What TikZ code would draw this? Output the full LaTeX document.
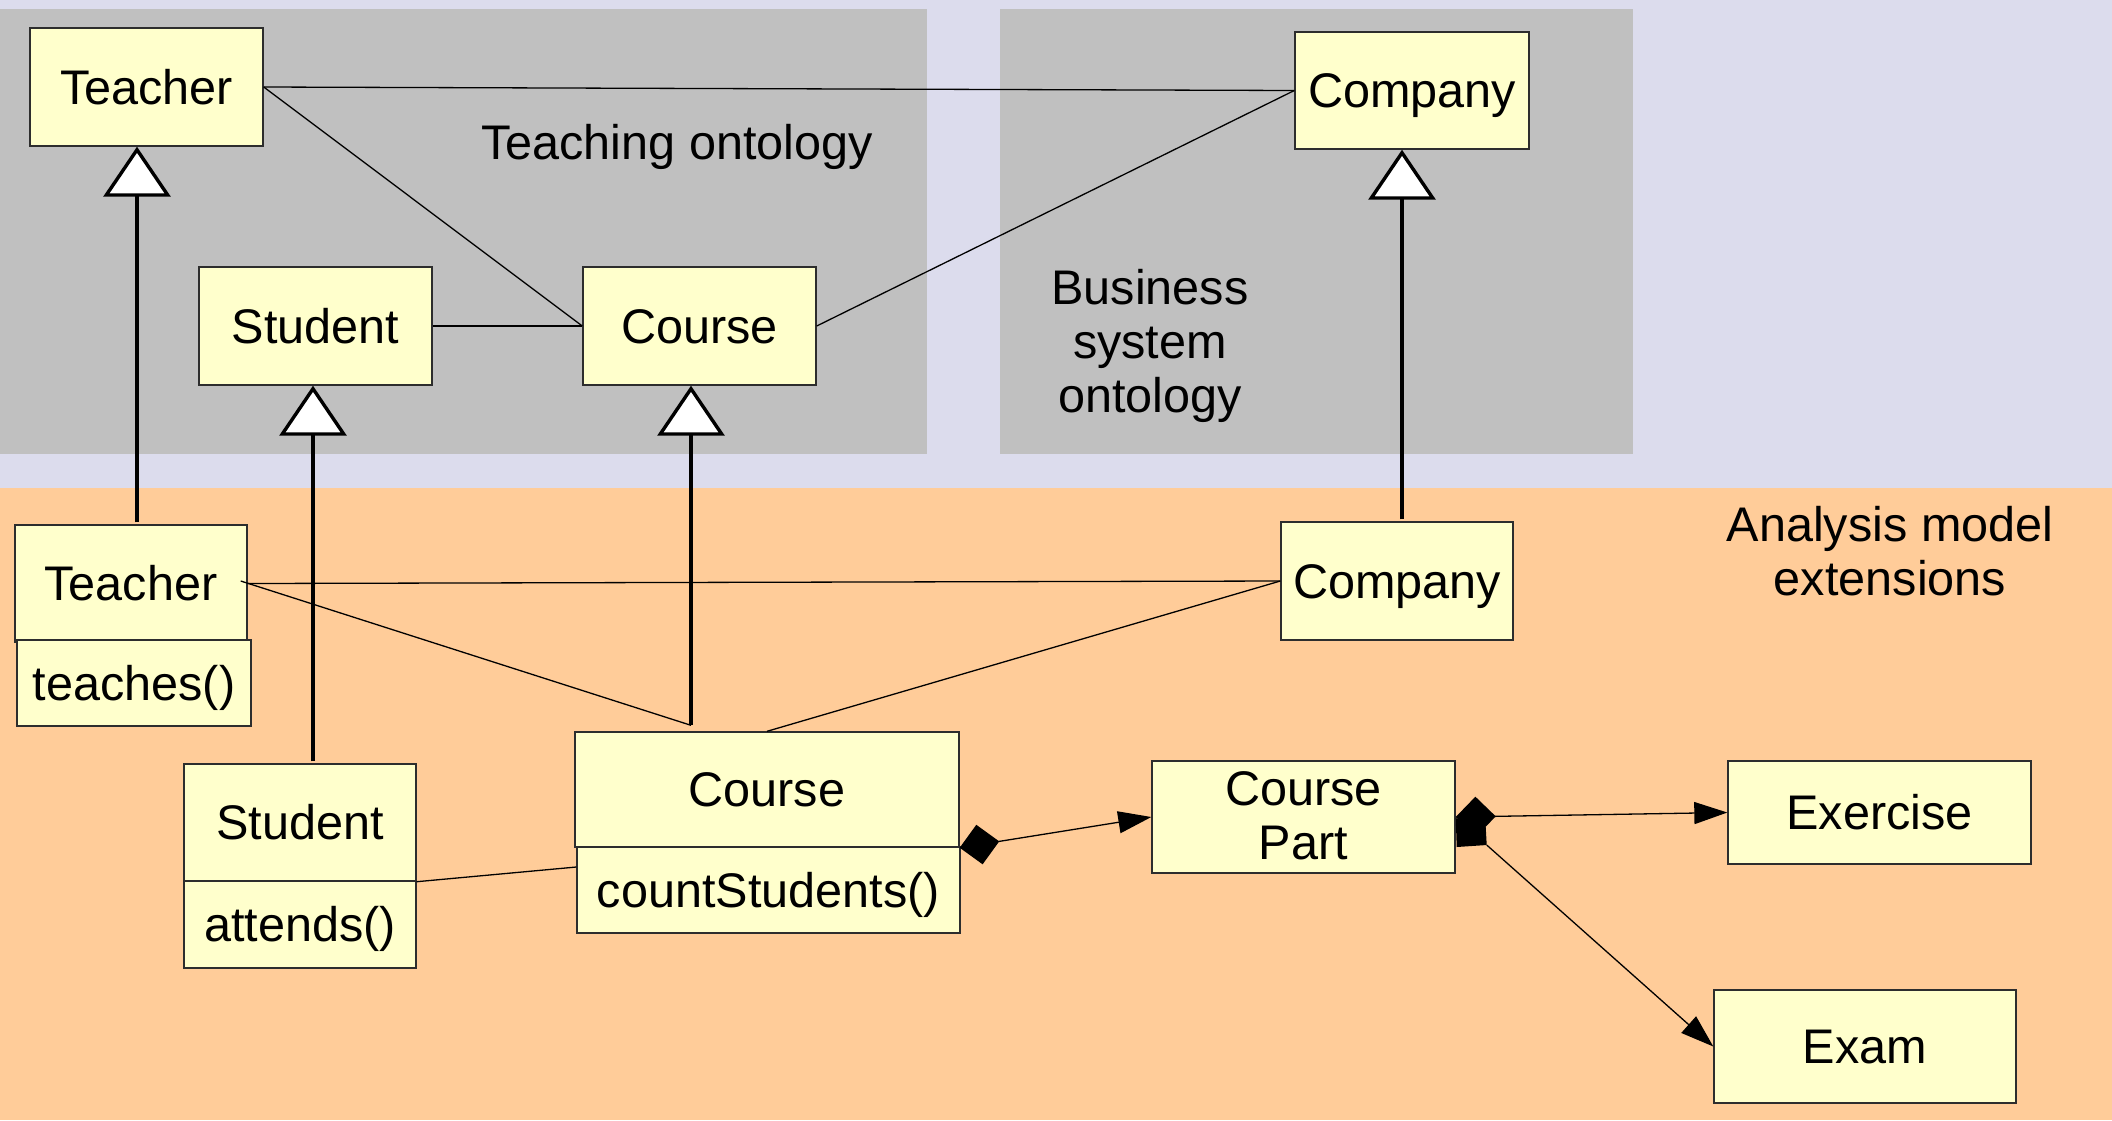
\documentclass[tikz,border=0pt]{standalone}
\usepackage{fontspec}
\setmainfont{Liberation Sans}
\usetikzlibrary{arrows.meta,calc}
\definecolor{bglav}{RGB}{220,220,237}
\definecolor{ontogray}{RGB}{192,192,192}
\definecolor{modelorange}{RGB}{255,204,153}
\definecolor{classyellow}{RGB}{255,255,204}
\definecolor{edgegray}{RGB}{45,45,45}
\begin{document}
\begin{tikzpicture}[x=0.5pt,y=-0.5pt,
  font=\fontsize{24.3pt}{27pt}\selectfont,
  cls/.style={draw=edgegray, line width=0.7pt, fill=classyellow, inner sep=0pt,
    text height=17.4pt, text depth=0pt},
  sz/.style 2 args={minimum width=#1*0.5pt, minimum height=#2*0.5pt},
  assoc/.style={line width=0.65pt, draw=black},
  gen/.style={line width=2pt, draw=black,
    -{Triangle[length=25pt, width=33.5pt, fill=white, line width=1.7pt]}},
  comp/.style={line width=0.65pt, draw=black,
    {Diamond[length=20pt, width=20pt]}-{Triangle[length=16.5pt, width=11pt]}},
  nav/.style={line width=0.65pt, draw=black, -{Triangle[length=16.5pt, width=11pt]}},
  title/.style={align=center, anchor=base, inner sep=0pt}
]
\useasboundingbox (0,0) rectangle (2112,1120);

% backgrounds: ontology packages and the analysis model area
\fill[bglav] (0,0) rectangle (2112,1120);
\fill[ontogray] (0,9) rectangle (927,454);
\fill[ontogray] (1000,9) rectangle (1633,454);
\fill[modelorange] (0,488) rectangle (2112,1120);

% package titles (base = baseline of the last line)
\node[title] (tTeachLbl) at (677,159) {Teaching ontology};
\node[title] (tBusLbl) at (1150,412) {Business\\system\\ontology};
\node[title] (tAnaLbl) at (1890,595) {Analysis model\\extensions};

% teaching ontology classes
\node[cls, sz={233}{118}] (tTeacher) at (146.5,87) {Teacher};
\node[cls, sz={233}{118}] (tStudent) at (315.5,326) {Student};
\node[cls, sz={233}{118}] (tCourse)  at (699.5,326) {Course};
% business system ontology class
\node[cls, sz={234}{117}] (tCompany) at (1412,90.5) {Company};

% analysis model classes
\node[cls, sz={232}{117}] (aTeacher)    at (131,583.5) {Teacher};
\node[cls, sz={234}{86}]  (aTeacherOps) at (134,683) {teaches()};
\node[cls, sz={232}{117}] (aStudent)    at (300,822.5) {Student};
\node[cls, sz={232}{87}]  (aStudentOps) at (300,924.5) {attends()};
\node[cls, sz={384}{115}] (aCourse)     at (767,789.5) {Course};
\node[cls, sz={383}{86}]  (aCourseOps)  at (768.5,890) {countStudents()};
\node[cls, sz={232}{118}] (aCompany)    at (1397,581) {Company};
\node[cls, sz={303}{112}, align=center, text height=42.9pt, text depth=0pt]
  (coursePart) at (1303.5,817) {Course\\Part};
\node[cls, sz={303}{103}] (exercise) at (1879.5,812.5) {Exercise};
\node[cls, sz={302}{113}] (exam)     at (1865,1046.5) {Exam};

% associations in the ontologies
\draw[assoc] (tTeacher.east) -- (tCompany.west);
\draw[assoc] (tTeacher.east) -- (tCourse.west);
\draw[assoc] (tStudent.east) -- (tCourse.west);
\draw[assoc] (tCourse.east) -- (tCompany.west);

% associations in the analysis model
\coordinate (aTeachEnd) at ($(aTeacher.east)+(-7,-2.5)$);
\coordinate (aCourseTop) at ($(aCourse.north)+(-76,-6)$);
\draw[assoc] (aTeacher.east) -- (aCompany.west);
\draw[assoc] (aTeachEnd) -- (aCourseTop);
\draw[assoc] (aCompany.west) -- (aCourse.north);
\draw[assoc] (aStudent.south east) -- ($(aCourseOps.west)+(0,-23)$);

% generalisations from the analysis model to the ontologies
\coordinate (genTeacher) at ($(aTeacher.north)+(6,-2)$);
\coordinate (genStudent) at ($(aStudent.north)+(13,-2)$);
\coordinate (genCompany) at ($(aCompany.north)+(5,-2)$);
\draw[gen] (genTeacher) -- (genTeacher |- tTeacher.south);
\draw[gen] (genStudent) -- (genStudent |- tStudent.south);
\draw[gen] (aCourseTop) -- (aCourseTop |- tCourse.south);
\draw[gen] (genCompany) -- (genCompany |- tCompany.south);

% compositions
\draw[comp] (aCourse.south east) -- (coursePart.west);
\draw[comp] (coursePart.east) -- (exercise.west);
\fill[black] ($(coursePart.east)+(0,1)$) -- ($(coursePart.east)+(30,10)$)
  -- ($(coursePart.east)+(31,28)$) -- ($(coursePart.east)+(1,30)$) -- cycle;
\draw[nav] ($(coursePart.east)+(31,28)$) -- (exam.west);
\end{tikzpicture}
\end{document}
